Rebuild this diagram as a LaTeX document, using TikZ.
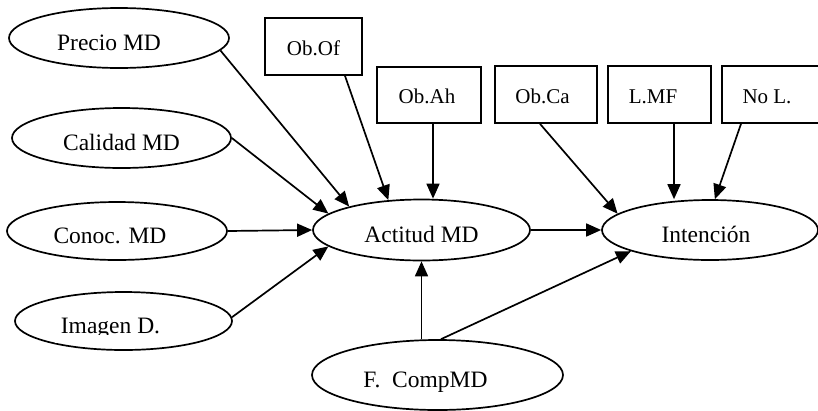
\documentclass[tikz,border=0pt]{standalone}
\usepackage{fontspec}
\setmainfont{Liberation Serif}
\usetikzlibrary{arrows.meta,shapes.geometric}
\newcommand{\mvl}[1]{\hspace*{-#1pt}}
\begin{document}
\begin{tikzpicture}[x=1pt,y=-1pt,
  ell/.style={ellipse,draw,line width=1.7pt,inner sep=0pt,text height=25pt,text depth=0pt,font=\fontsize{23.5}{27}\selectfont},
  rbox/.style={rectangle,draw,line width=1.7pt,inner sep=0pt,minimum height=57pt,text height=17pt,text depth=0pt,font=\fontsize{21}{25}\selectfont},
  arr/.style={line width=1.7pt,-{Triangle[length=15pt,width=13pt]}}]
\fill[white] (0,0) rectangle (818,410);
\useasboundingbox (0,0) rectangle (818,410);

% ellipses
\node[ell,minimum width=220pt,minimum height=60pt] (P) at (119,38) {\mvl{20}Precio MD};
\node[ell,minimum width=219pt,minimum height=60pt] (C) at (121.5,138) {Calidad MD};
\node[ell,minimum width=220pt,minimum height=58pt] (K) at (117,231) {\mvl{14}Conoc. MD};
\begin{scope}[even odd rule]
  \clip (0,0) rectangle (818,410) (55,334) rectangle (172,343);
  \node[ell,minimum width=217pt,minimum height=58pt] (I) at (123.5,321) {\mvl{26}Imagen D.};
\end{scope}
\node[ell,minimum width=217pt,minimum height=61pt] (A) at (421.5,230) {Actitud MD};
\node[ell,minimum width=216pt,minimum height=60pt] (N) at (710,230) {\mvl{8}Intención};
\node[ell,minimum width=251pt,minimum height=70pt] (F) at (437.5,375) {\mvl{24}F.\ \ CompMD};

% boxes
\node[rbox,minimum width=97pt] (Of) at (313.5,46.5) {Ob.Of};
\node[rbox,minimum width=104pt,minimum height=56pt] (Ah) at (429,95) {\mvl{4}Ob.Ah};
\node[rbox,minimum width=102pt] (Ca) at (546,94.5) {\mvl{7}Ob.Ca};
\node[rbox,minimum width=103pt] (LMF) at (659.5,94.5) {\mvl{13}L.MF};
\node[rbox,minimum width=103pt] (NoL) at (773.5,94.5) {\mvl{13}No L.};

% connectors
\draw[arr] (P.-7) -- (A.162);
\draw[arr] (C.0) -- (A.170);
\draw[arr] (K.east) -- (A.west);
\draw[arr] (I.2) -- (A.190);
\draw[arr] ([xshift=31.5pt]Of.south) -- (A.138);
\draw[arr] ([xshift=4pt]Ah.south) -- ([xshift=4pt]Ah.south |- A.north);
\draw[arr] ([xshift=-6pt]Ca.south) -- (N.170);
\draw[arr] ([xshift=14.5pt]LMF.south) -- ([xshift=14.5pt]LMF.south |- N.north);
\draw[arr] ([xshift=-32.5pt]NoL.south) -- (N.81);
\draw[arr] (A.east) -- (N.west);
\draw[arr] (F.north -| A.south) -- (A.south);
\draw[arr] ([xshift=3.5pt]F.north) -- (N.195);
\end{tikzpicture}
\end{document}
